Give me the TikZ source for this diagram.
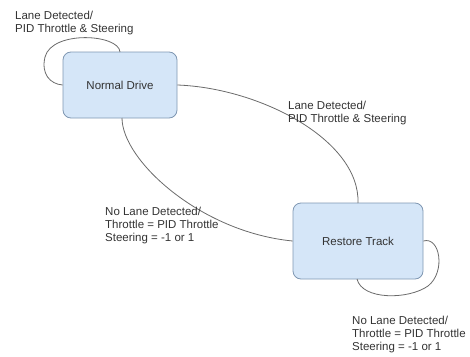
\documentclass[tikz,border=0pt]{standalone}
\usepackage{fontspec}
\setmainfont{Liberation Sans}
\definecolor{boxfill}{HTML}{D5E6F8}
\definecolor{boxline}{HTML}{7F97B2}
\definecolor{edgec}{HTML}{6A6A6A}
\definecolor{txt}{HTML}{333333}
\begin{document}
\begin{tikzpicture}[x=1pt,y=-1pt,
  state/.style={draw=boxline,fill=boxfill,rounded corners=8pt,line width=0.8pt,
    text=txt,font=\fontsize{11.5}{13}\selectfont,inner sep=0pt},
  lbl/.style={anchor=north west,align=left,inner sep=0pt,text=txt,
    font=\fontsize{11.5}{13}\selectfont},
  edge/.style={draw=edgec,line width=0.8pt}]
\useasboundingbox (0,0) rectangle (470,356);
\node[state,minimum width=114pt,minimum height=66pt] (nd) at (120,85) {Normal Drive};
\node[state,minimum width=130pt,minimum height=76pt] (rt) at (358,241) {Restore Track};
\coordinate (ndtop) at (120,52);
\coordinate (ndbot) at (122,118);
\coordinate (rttop) at (358,203);
\coordinate (rtbot) at (357,279);
% self loop Normal Drive
\draw[edge] (ndtop) .. controls (119,34) and (52,30) .. (45,57)
  .. controls (41,74) and (50,84) .. (nd.west);
% Normal Drive -> Restore Track (upper)
\draw[edge] (nd.east) .. controls (260,88) and (360,140) .. (rttop);
% Normal Drive -> Restore Track (lower)
\draw[edge] (ndbot) .. controls (122,160) and (200,232) .. (rt.west);
% self loop Restore Track
\draw[edge] (rt.east) .. controls (440,236) and (446,272) .. (428,286)
  .. controls (408,300) and (362,300) .. (rtbot);
% labels
\node[lbl] (l1) at (15,11) {Lane Detected/\\PID Throttle \& Steering};
\node[lbl] (l2) at (288,100.5) {Lane Detected/\\PID Throttle \& Steering};
\node[lbl] (l3) at (105,206.5) {No Lane Detected/\\Throttle = PID Throttle\\Steering = -1 or 1};
\node[lbl] (l4) at (352,316) {No Lane Detected/\\Throttle = PID Throttle\\Steering = -1 or 1};
\end{tikzpicture}
\end{document}
